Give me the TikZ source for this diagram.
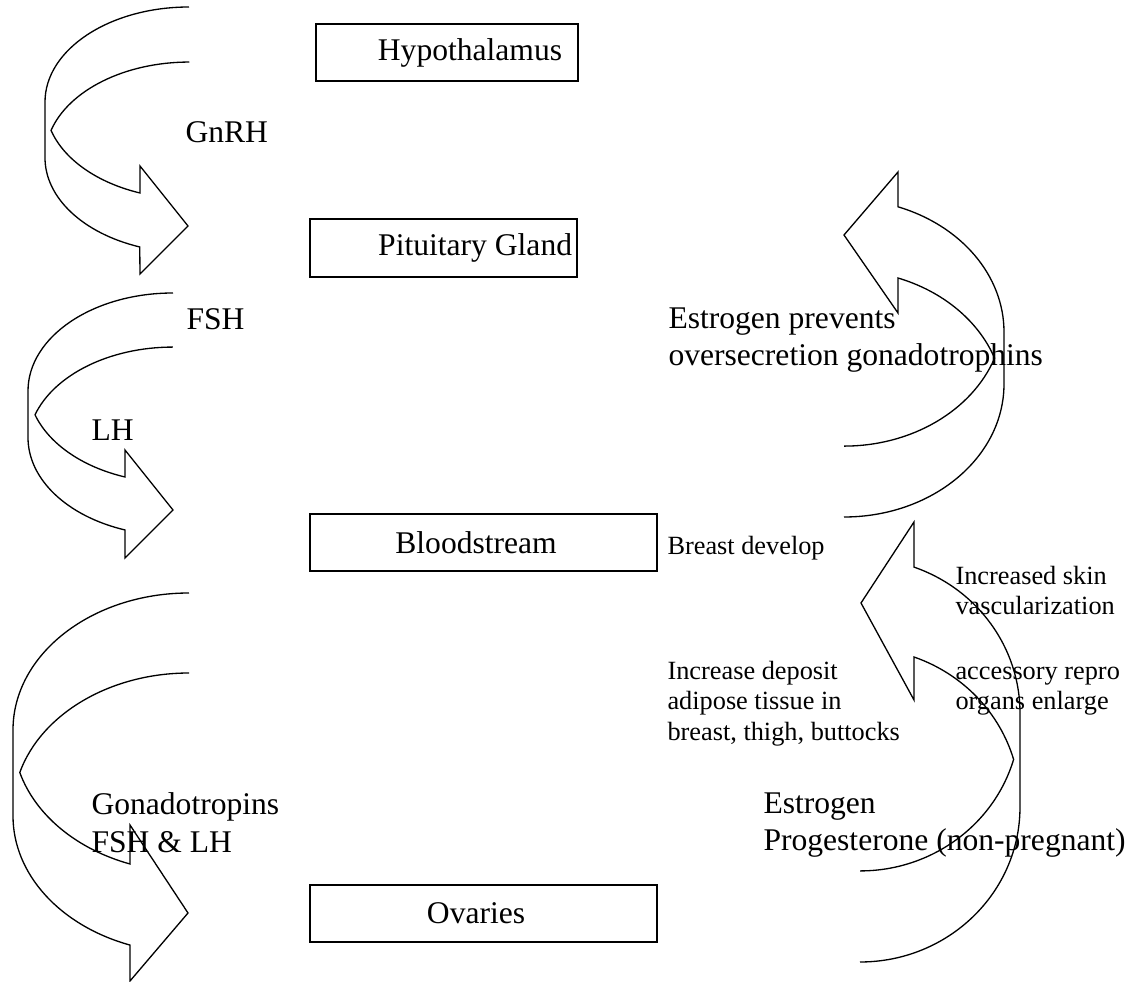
\documentclass[tikz,border=0pt]{standalone}
\usepackage{fontspec}
\setmainfont{Liberation Serif}
\usetikzlibrary{positioning}

\begin{document}
\begin{tikzpicture}[x=0.38pt, y=-0.38pt, node distance=0.8cm]
  \tikzstyle{organ} = [rectangle, draw=black, line width=0.75pt, inner sep=0pt, minimum height=21.8pt, font=\fontsize{12}{14.4}\selectfont]
  \tikzstyle{hormone} = [inner sep=0pt, anchor=base west, align=left, font=\fontsize{12}{14.4}\selectfont]
  \tikzstyle{effect} = [inner sep=0pt, anchor=base west, align=left, font=\fontsize{10}{11.5}\selectfont]
  \tikzstyle{bigarrow} = [draw=black, line width=0.5pt, line join=miter]

  \useasboundingbox (0,0) rectangle (1134,982);

  \node (hypo) [organ, minimum width=99.6pt] at (447,52.5) {\hspace*{17.5pt}Hypothalamus};
  \node (pit) [organ, minimum width=101.5pt, below=51.7pt of hypo, xshift=-1.3pt] {\hspace*{24pt}Pituitary Gland};
  \node (blood) [organ, minimum width=131.9pt, below=89.3pt of pit, xshift=15.2pt] {\hspace*{-5.7pt}Bloodstream};
  \node (ovaries) [organ, minimum width=131.9pt, below=118.6pt of blood] {\hspace*{-5.7pt}Ovaries};

  \node (gnrh) [hormone] at (185,143) {GnRH};
  \node (fsh) [hormone] at (186,330) {FSH};
  \node (lh) [hormone] at (91,441) {LH};
  \node (gonad) [hormone] at (91,852) {Gonadotropins\\FSH \& LH};
  \node (prevent) [hormone] at (668,366) {Estrogen prevents\\oversecretion gonadotrophins};
  \node (steroids) [hormone] at (763,851) {Estrogen\\Progesterone (non-pregnant)};

  \node (breast) [effect] at (667,555) {Breast develop};
  \node (adipose) [effect] at (667,740) {Increase deposit\\adipose tissue in\\breast, thigh, buttocks};
  \node (skin) [effect] at (955,615) {Increased skin\\vascularization};
  \node (repro) [effect] at (955,710) {accessory repro\\organs enlarge};

  \draw [bigarrow, x radius=144, y radius=95] (189,7) arc[start angle=270, end angle=180] -- (45,157.7)
    arc[start angle=180, end angle=110] -- (140,274) -- (188,226) -- (140,166) -- (140,193)
    arc[start angle=110, end angle=163.7] arc[start angle=196.3, end angle=270];
  \draw [bigarrow, x radius=145, y radius=98] (173,293) arc[start angle=270, end angle=180] -- (28,437.5)
    arc[start angle=180, end angle=109.3] -- (125,558) -- (173,510) -- (125,450) -- (125,477)
    arc[start angle=109.3, end angle=162] arc[start angle=198, end angle=270];
  \draw [bigarrow, x radius=176, y radius=137] (189,593) arc[start angle=270, end angle=180] -- (13,816)
    arc[start angle=180, end angle=109.6] -- (130,981) -- (188,913) -- (130,825) -- (130,864)
    arc[start angle=109.6, end angle=164.1] arc[start angle=195.9, end angle=270];

  \draw [bigarrow, x radius=160, y radius=133] (844,517) arc[start angle=90, end angle=0] -- (1004,332)
    arc[start angle=0, end angle=-70.3] -- (898,172) -- (844,235) -- (898,313) -- (898,278)
    arc[start angle=-70.3, end angle=-19.8] arc[start angle=19.8, end angle=90];
  \draw [bigarrow, x radius=160, y radius=155] (860,962) arc[start angle=90, end angle=0] -- (1020,713)
    arc[start angle=0, end angle=-70.3] -- (914,522) -- (861,603) -- (914,700) -- (914,657)
    arc[start angle=-70.3, end angle=-16.3] arc[start angle=16.3, end angle=90];
\end{tikzpicture}
\end{document}
